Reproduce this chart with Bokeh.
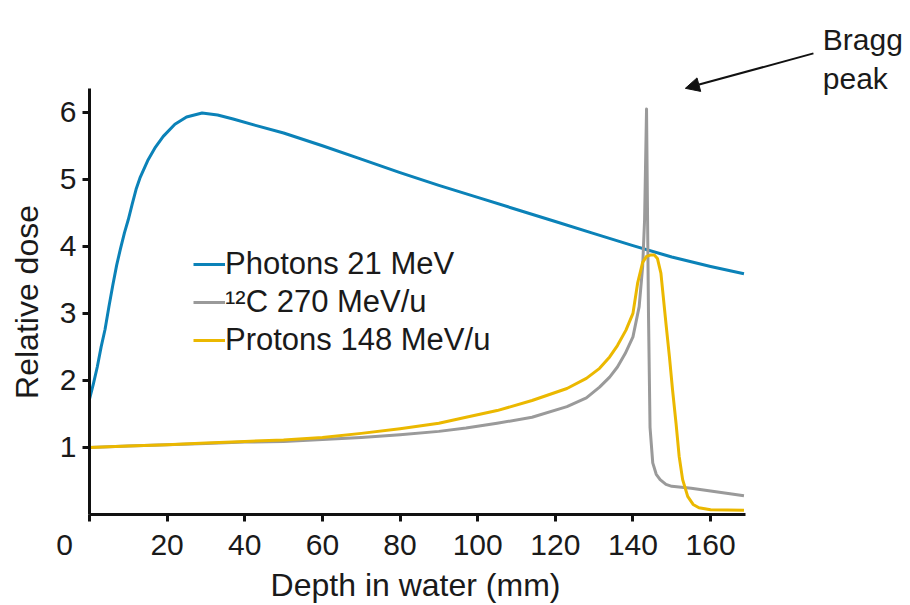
from bokeh.plotting import figure
from bokeh.models import Legend, LegendItem, Label, Arrow, NormalHead, FixedTicker, Range1d
from bokeh.embed import file_html
from bokeh.resources import INLINE

# ---- data ----
photon_x = [0, 1, 2, 3, 4, 5, 6, 7, 8, 9, 10, 11, 12, 13, 15, 17, 19, 22, 25, 29, 33, 37, 43,
            50, 60, 70, 80, 90, 100, 110, 120, 130, 140, 150, 160, 168.6]
photon_y = [1.72, 1.95, 2.2, 2.5, 2.76, 3.1, 3.42, 3.72, 3.97, 4.2, 4.4, 4.63, 4.85, 5.02, 5.28,
            5.48, 5.64, 5.82, 5.93, 5.99, 5.96, 5.9, 5.8, 5.69, 5.5, 5.3, 5.1, 4.91, 4.73, 4.55,
            4.37, 4.19, 4.01, 3.84, 3.70, 3.59]

carbon_x = [0, 10, 20, 30, 40, 50, 60, 70, 80, 90, 97, 105, 114, 123, 128, 131.4, 134, 136, 138,
            140, 141.6, 142.5, 143, 143.5, 144, 144.4, 145.1, 146, 147, 148.5, 150, 155, 160,
            165, 168.6]
carbon_y = [1.0, 1.02, 1.04, 1.06, 1.08, 1.09, 1.12, 1.15, 1.19, 1.24, 1.29, 1.36, 1.45, 1.61,
            1.74, 1.9, 2.05, 2.2, 2.4, 2.65, 3.1, 3.7, 4.4, 6.05, 3.0, 1.3, 0.77, 0.6, 0.52, 0.45,
            0.42, 0.39, 0.35, 0.31, 0.28]

proton_x = [0, 10, 20, 30, 40, 50, 60, 70, 80, 90, 97, 105, 114, 123, 128, 131.4, 134, 136,
            138.2, 140, 141.2, 142.5, 143.5, 144.5, 145.5, 146.3, 147.2, 148.5, 149.4, 150.2,
            151.1, 151.9, 152.8, 154.1, 155.5, 157, 160, 168.6]
proton_y = [1.0, 1.02, 1.04, 1.065, 1.09, 1.11, 1.15, 1.21, 1.28, 1.36, 1.45, 1.55, 1.70, 1.88,
            2.03, 2.18, 2.35, 2.52, 2.75, 3.0, 3.45, 3.76, 3.85, 3.87, 3.87, 3.82, 3.6, 2.85,
            2.35, 1.86, 1.36, 0.87, 0.52, 0.27, 0.15, 0.1, 0.07, 0.065]

series_labels = ["Photons 21 MeV", "\u00b9\u00b2C 270 MeV/u", "Protons 148 MeV/u"]
x_ticks = [0, 20, 40, 60, 80, 100, 120, 140, 160]
y_ticks = [1, 2, 3, 4, 5, 6]
x_axis_span = (0, 169)
y_axis_span = (0, 6.36)

FONT = "Liberation Sans"
TXT = "#1a1a1a"
BLUE = "#0b82b8"
GRAY = "#9a9a9a"
YELLOW = "#ebb800"
NBSP = "\u00a0"

# frame covers everything right of the y axis and above the x axis;
# the axes themselves are limited with `bounds`
p = figure(width=910, height=605, output_backend="svg", toolbar_location=None,
           x_range=Range1d(0, 211.5), y_range=Range1d(0, 7.667),
           min_border_left=89, min_border_right=0, min_border_top=0, min_border_bottom=90)
p.outline_line_color = None
p.xgrid.grid_line_color = None
p.ygrid.grid_line_color = None

r1 = p.line(photon_x, photon_y, line_color=BLUE, line_width=3, line_join="round")
r2 = p.line(carbon_x, carbon_y, line_color=GRAY, line_width=3, line_join="round")
r3 = p.line(proton_x, proton_y, line_color=YELLOW, line_width=3, line_join="round")

for ax in (p.xaxis[0], p.yaxis[0]):
    ax.axis_line_color = "#111111"
    ax.axis_line_width = 3
    ax.major_tick_line_color = "#111111"
    ax.major_tick_line_width = 3
    ax.major_tick_out = 7
    ax.major_tick_in = 0
    ax.minor_tick_line_color = None
    ax.major_label_text_font = FONT
    ax.major_label_text_font_size = "30px"
    ax.major_label_text_color = TXT
    ax.major_label_standoff = 6
    ax.axis_label_text_font = FONT
    ax.axis_label_text_font_size = "32px"
    ax.axis_label_text_font_style = "normal"
    ax.axis_label_text_color = TXT

p.xaxis[0].bounds = x_axis_span
p.yaxis[0].bounds = y_axis_span
p.xaxis[0].ticker = FixedTicker(ticks=x_ticks)
p.yaxis[0].ticker = FixedTicker(ticks=y_ticks)
# shared origin "0" sits left of the corner
p.xaxis[0].major_label_overrides = {0: "0" + NBSP * 6}
# axis titles are centred on the frame; pad them so they centre on the drawn axes
p.xaxis[0].axis_label = "Depth in water (mm)" + NBSP * 19
p.yaxis[0].axis_label = "Relative dose" + NBSP * 10
p.xaxis[0].axis_label_standoff = 3
p.yaxis[0].axis_label_standoff = 12
p.yaxis[0].major_label_orientation = "horizontal"

legend = Legend(items=[LegendItem(label=series_labels[0], renderers=[r1]),
                       LegendItem(label=series_labels[1], renderers=[r2]),
                       LegendItem(label=series_labels[2], renderers=[r3])],
                location=(104, 156), orientation="vertical",
                glyph_width=32, glyph_height=20, label_standoff=0, padding=0, margin=0,
                spacing=2, border_line_color=None, background_fill_alpha=0,
                label_text_font=FONT, label_text_font_size="31px", label_text_color=TXT,
                label_height=36)
p.add_layout(legend)

# Bragg peak annotation
p.add_layout(Label(x=188.9, y=7.086, text="Bragg", text_font=FONT, text_font_size="30px",
                   text_color=TXT, text_align="left", text_baseline="alphabetic"))
p.add_layout(Label(x=188.9, y=6.506, text="peak", text_font=FONT, text_font_size="30px",
                   text_color=TXT, text_align="left", text_baseline="alphabetic"))
p.add_layout(Arrow(x_start=186.5, y_start=6.878, x_end=153.5, y_end=6.357,
                   line_color="#111111", line_width=2,
                   end=NormalHead(size=14, fill_color="#111111", line_color="#111111")))

open("out.html", "w").write(file_html(p, INLINE))
